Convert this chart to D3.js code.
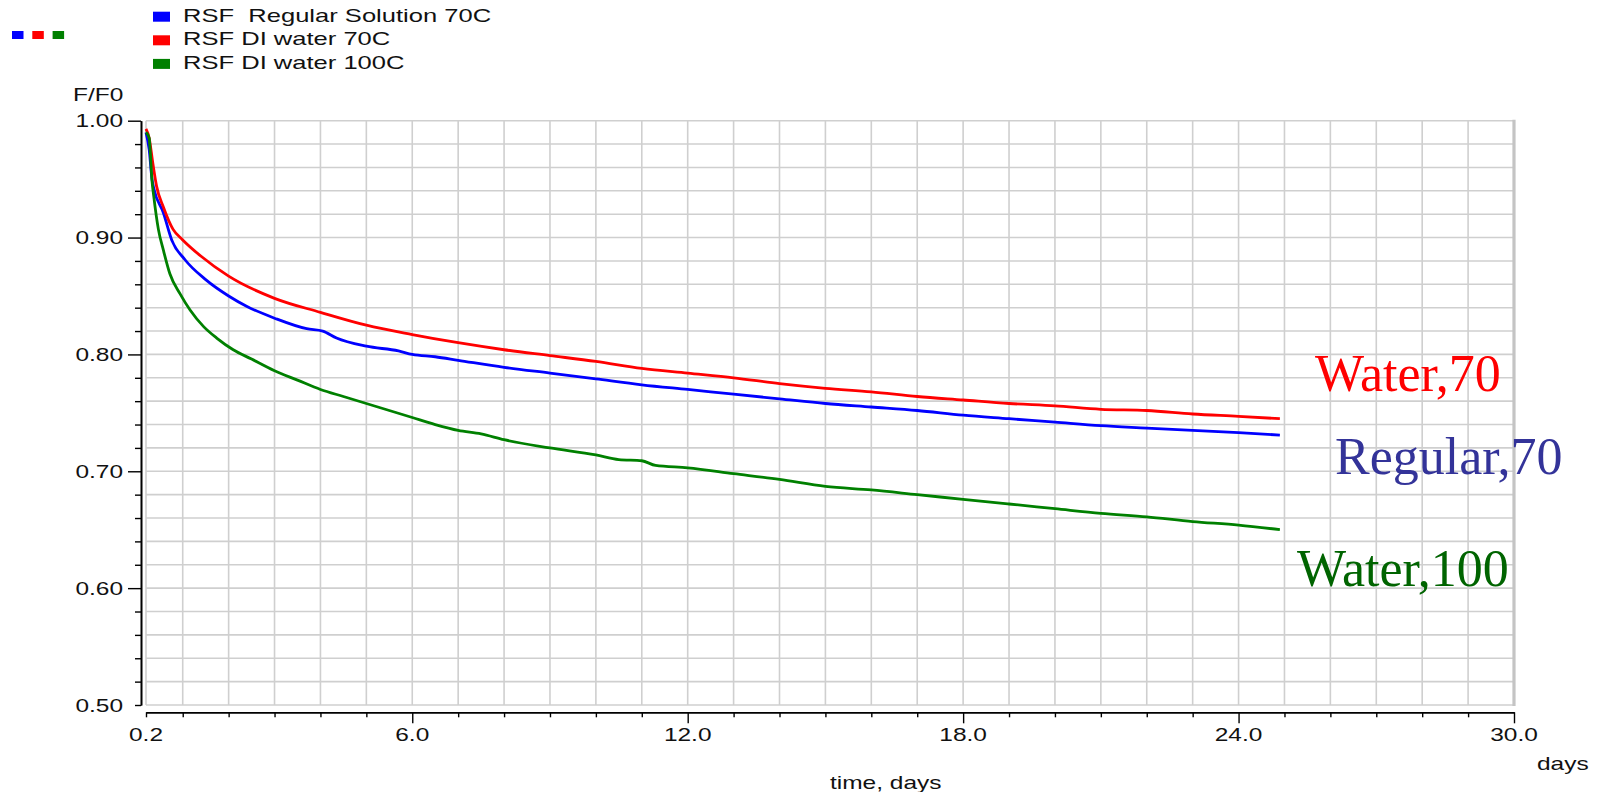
<!DOCTYPE html>
<html>
<head>
<meta charset="utf-8">
<script src="https://cdn.jsdelivr.net/npm/d3@7"></script>
<style>
  html, body { margin: 0; padding: 0; background: #ffffff; }
  svg { display: block; }
  .ui { font-family: "Liberation Sans", Arial, sans-serif; font-size: 18px; fill: #111; white-space: pre; }
  .note { font-family: "Liberation Serif", "Times New Roman", serif; font-size: 52px; }
</style>
</head>
<body>
<svg id="chart" width="1605" height="792"></svg>
<script>
// Relaxation data, F/F0 against time in days
const regularDays = [0.2, 0.27, 0.33, 0.37, 0.58, 0.76, 1.05, 1.5, 2.0, 2.4, 3.0, 3.7, 4.05, 4.35, 5.0, 5.7, 6.0, 6.5, 7.0, 8.0, 9.0, 10.0, 11.0, 12.0, 13.0, 14.0, 15.0, 16.0, 17.0, 18.0, 19.0, 20.0, 21.0, 22.0, 23.0, 24.0, 24.9];
const regularValues = [0.990, 0.975, 0.950, 0.942, 0.921, 0.898, 0.881, 0.864, 0.850, 0.841, 0.831, 0.822, 0.820, 0.814, 0.807, 0.803, 0.800, 0.798, 0.795, 0.789, 0.784, 0.779, 0.774, 0.770, 0.766, 0.762, 0.758, 0.755, 0.752, 0.748, 0.745, 0.742, 0.739, 0.737, 0.735, 0.733, 0.731];

const water70Days = [0.2, 0.27, 0.34, 0.37, 0.43, 0.58, 0.79, 1.0, 1.4, 2.0, 3.0, 4.0, 5.0, 6.0, 7.0, 8.0, 9.0, 10.0, 11.0, 12.0, 13.0, 14.0, 15.0, 16.0, 17.0, 18.0, 19.0, 20.0, 21.0, 22.0, 23.0, 24.0, 24.9];
const water70Values = [0.993, 0.985, 0.966, 0.958, 0.944, 0.926, 0.907, 0.898, 0.884, 0.867, 0.848, 0.836, 0.825, 0.817, 0.810, 0.804, 0.799, 0.794, 0.788, 0.784, 0.780, 0.775, 0.771, 0.768, 0.764, 0.761, 0.758, 0.756, 0.753, 0.752, 0.749, 0.747, 0.745];

const water100Days = [0.2, 0.27, 0.29, 0.33, 0.37, 0.47, 0.58, 0.72, 0.94, 1.16, 1.45, 1.74, 2.1, 2.5, 3.0, 3.5, 4.0, 4.5, 5.0, 5.5, 6.0, 6.5, 7.0, 7.5, 8.0, 9.0, 10.0, 10.5, 11.0, 11.3, 12.0, 13.0, 14.0, 15.0, 16.0, 17.0, 18.0, 19.0, 20.0, 21.0, 22.0, 23.0, 24.0, 24.9];
const water100Values = [0.990, 0.985, 0.975, 0.949, 0.935, 0.907, 0.889, 0.869, 0.852, 0.838, 0.824, 0.814, 0.804, 0.796, 0.786, 0.778, 0.770, 0.764, 0.758, 0.752, 0.746, 0.740, 0.735, 0.732, 0.727, 0.720, 0.714, 0.710, 0.709, 0.705, 0.703, 0.698, 0.693, 0.687, 0.684, 0.680, 0.676, 0.672, 0.668, 0.664, 0.661, 0.657, 0.654, 0.650];

const seriesNames = ["RSF  Regular Solution 70C", "RSF DI water 70C", "RSF DI water 100C"];
const seriesColors = ["#0000ff", "#ff0000", "#008000"];
const noteTexts = ["Water,70", "Regular,70", "Water,100"];
const noteColors = ["#ff0000", "#333399", "#006400"];

const xTickLabels = [0.2, 6, 12, 18, 24, 30];
const yTickLabels = [0.5, 0.6, 0.7, 0.8, 0.9, 1.0];
const xTitle = "time, days";
const xUnit = "days";
const yTitle = "F/F0";

// Layout
const plot = { left: 146, right: 1514, top: 120.7, bottom: 705 };
const SX = 1.36;       // horizontal stretch of the interface font
const SX_LEGEND = 1.42;

const svg = d3.select("#chart");
const x = d3.scaleLinear().domain([0.2, 30]).range([plot.left, plot.right]);
const y = d3.scaleLinear().domain([0.5, 1.0]).range([plot.bottom, plot.top]);

function label(g, px, py, txt, anchor, sx) {
  return g.append("text")
    .attr("class", "ui")
    .attr("text-anchor", anchor || "start")
    .attr("transform", `translate(${px},${py}) scale(${sx || SX},1)`)
    .text(txt);
}

// Grid
const dayGrid = d3.range(1, 30);
const valGrid = d3.range(0, 26).map(i => +(0.5 + i * 0.02).toFixed(2));
const grid = svg.append("g");
grid.selectAll("line.v").data(dayGrid).join("line")
  .attr("x1", d => x(d)).attr("x2", d => x(d))
  .attr("y1", plot.top).attr("y2", plot.bottom)
  .attr("stroke", "#cfcfcf").attr("stroke-width", 1.6);
grid.selectAll("line.h").data(valGrid).join("line")
  .attr("x1", plot.left).attr("x2", plot.right)
  .attr("y1", d => y(d)).attr("y2", d => y(d))
  .attr("stroke", "#cfcfcf").attr("stroke-width", 1.6);
grid.append("line")
  .attr("x1", plot.left).attr("x2", plot.left)
  .attr("y1", plot.top).attr("y2", plot.bottom)
  .attr("stroke", "#cfcfcf").attr("stroke-width", 1.6);
grid.append("line")
  .attr("x1", x(30)).attr("x2", x(30))
  .attr("y1", plot.top - 1).attr("y2", plot.bottom + 1)
  .attr("stroke", "#c4c4c4").attr("stroke-width", 3.2);

// X axis: minor daily ticks and labelled major ticks
const xAxisY = 712.3;
const xMinor = d3.range(1, 30).filter(d => d % 6 !== 0);
const gxMinor = svg.append("g").attr("transform", `translate(0,${xAxisY})`)
  .call(d3.axisBottom(x).tickValues(xMinor).tickSize(5).tickSizeOuter(0).tickFormat(""));
const gxMajor = svg.append("g").attr("transform", `translate(0,${xAxisY})`)
  .call(d3.axisBottom(x).tickValues(xTickLabels).tickSize(11).tickSizeOuter(0).tickFormat(""));
gxMajor.selectAll(".tick").filter(d => d === 0.2).select("line").attr("y2", 5);
[gxMinor, gxMajor].forEach(g => {
  g.select(".domain").attr("stroke", "#000").attr("stroke-width", 1.6);
  g.selectAll(".tick line").attr("stroke", "#000").attr("stroke-width", 1.4);
});
xTickLabels.forEach(d => label(svg, x(d), 741, d3.format(".1f")(d), "middle"));

// Y axis: minor ticks every 0.02, labelled every 0.10
const yAxisX = 141;
const yMinor = valGrid.filter(v => Math.round(v * 100) % 10 !== 0);
const gyMinor = svg.append("g").attr("transform", `translate(${yAxisX},0)`)
  .call(d3.axisLeft(y).tickValues(yMinor).tickSize(6).tickSizeOuter(0).tickFormat(""));
const gyMajor = svg.append("g").attr("transform", `translate(${yAxisX},0)`)
  .call(d3.axisLeft(y).tickValues(yTickLabels).tickSize(13).tickSizeOuter(0).tickFormat(""));
gyMajor.selectAll(".tick").filter(d => d === 0.5).select("line").attr("x2", -6);
[gyMinor, gyMajor].forEach(g => {
  g.select(".domain").attr("stroke", "#000").attr("stroke-width", 1.6);
  g.selectAll(".tick line").attr("stroke", "#000").attr("stroke-width", 1.4);
});
yTickLabels.forEach(d => label(svg, 123, y(d) + 6.5, d3.format(".2f")(d), "end"));

// Axis titles
label(svg, 73, 101, yTitle, "start");
label(svg, 830, 789, xTitle, "start");
label(svg, 1537, 770, xUnit, "start");

// Curves
const series = [
  { days: regularDays, values: regularValues },
  { days: water70Days, values: water70Values },
  { days: water100Days, values: water100Values }
];
const line = d3.line().x(d => x(d[0])).y(d => y(d[1])).curve(d3.curveMonotoneX);
series.forEach((s, i) => {
  svg.append("path")
    .datum(s.days.map((d, j) => [d, s.values[j]]))
    .attr("fill", "none")
    .attr("stroke", seriesColors[i])
    .attr("stroke-width", 2.8)
    .attr("stroke-linejoin", "round")
    .attr("d", line);
});

// Legend
const legend = svg.append("g");
seriesNames.forEach((name, i) => {
  const base = 21.7 + i * 23.6;
  legend.append("rect")
    .attr("x", 153).attr("y", base - 10).attr("width", 17).attr("height", 10)
    .attr("fill", seriesColors[i]);
  label(legend, 183, base, name, "start", SX_LEGEND);
  legend.append("rect")
    .attr("x", 12 + i * 20.3).attr("y", 31).attr("width", 11.5).attr("height", 8)
    .attr("fill", seriesColors[i]);
});

// Curve annotations
const notePos = [[1315, 391], [1335, 474], [1297, 586]];
noteTexts.forEach((t, i) => {
  svg.append("text")
    .attr("class", "note")
    .attr("x", notePos[i][0]).attr("y", notePos[i][1])
    .attr("fill", noteColors[i])
    .text(t);
});
</script>
</body>
</html>
